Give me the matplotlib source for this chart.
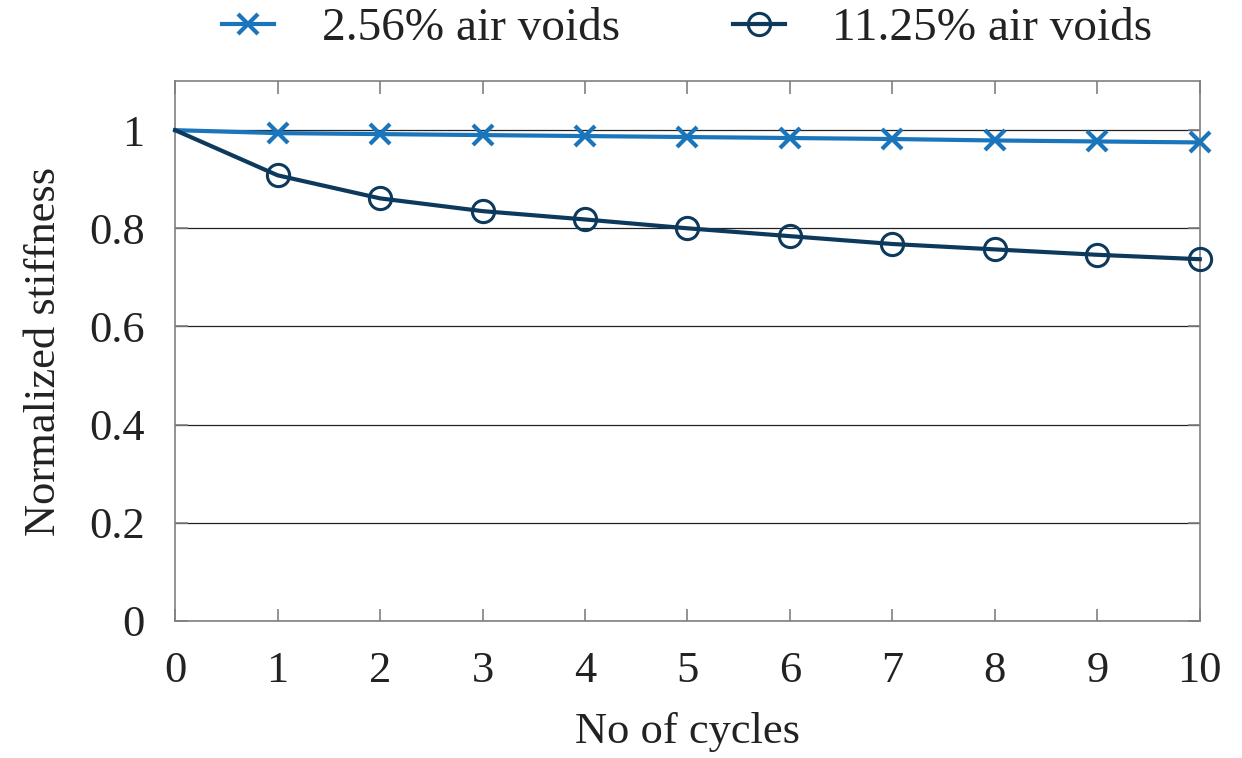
import numpy as np
from matplotlib import pyplot as plt
from matplotlib.ticker import FuncFormatter

cycles = [0, 1, 2, 3, 4, 5, 6, 7, 8, 9, 10]
stiff_low = [1.0, 0.994, 0.992, 0.990, 0.988, 0.986, 0.984, 0.982, 0.979, 0.977, 0.975]
stiff_high = [1.0, 0.908, 0.861, 0.835, 0.818, 0.800, 0.784, 0.768, 0.757, 0.746, 0.737]
labels = ['2.56% air voids', '11.25% air voids']
yticks = [0, 0.2, 0.4, 0.6, 0.8, 1.0]

plt.rcParams['font.family'] = ['Liberation Serif', 'DejaVu Serif']
plt.rcParams['font.size'] = 32

fig = plt.figure(figsize=(12.42, 7.58), dpi=100)
ax = fig.add_axes([0.141, 0.181, 0.825, 0.712])

# no marker on the starting point
ax.plot(cycles, stiff_low, color='#1a75bb', lw=3, marker='x', ms=15, mew=3,
        markevery=slice(1, None), label=labels[0], clip_on=False, zorder=3)
ax.plot(cycles, stiff_high, color='#0d3a5c', lw=3, marker='o', ms=16, mew=2.2,
        mfc='none', markevery=slice(1, None), label=labels[1], clip_on=False, zorder=3)

ax.set_xlim(0, 10)
ax.set_ylim(0, 1.1)
ax.set_xticks(cycles)
ax.set_yticks(yticks)
ax.yaxis.set_major_formatter(FuncFormatter(lambda v, p: '%g' % v))
ax.grid(axis='y', color='#222222', lw=0.9)
ax.set_axisbelow(True)

for s in ax.spines.values():
    s.set_color('#808080')
    s.set_linewidth(1.2)
ax.tick_params(direction='in', length=9, width=1.2, color='#808080',
               top=True, right=True, labelcolor='#222222')
ax.tick_params(axis='x', pad=22)
ax.tick_params(axis='y', pad=22)

ax.set_xlabel('No of cycles', labelpad=15, color='#222222')
ax.set_ylabel('Normalized stiffness', labelpad=18, color='#222222')

ax.legend(loc='lower center', bbox_to_anchor=(0.5, 1.0), ncol=2, frameon=False,
          fontsize=34, handlelength=1.1, columnspacing=2.4, handletextpad=1.0,
          borderaxespad=0.25, labelcolor='#222222')

fig.savefig('out.png', dpi=100)
